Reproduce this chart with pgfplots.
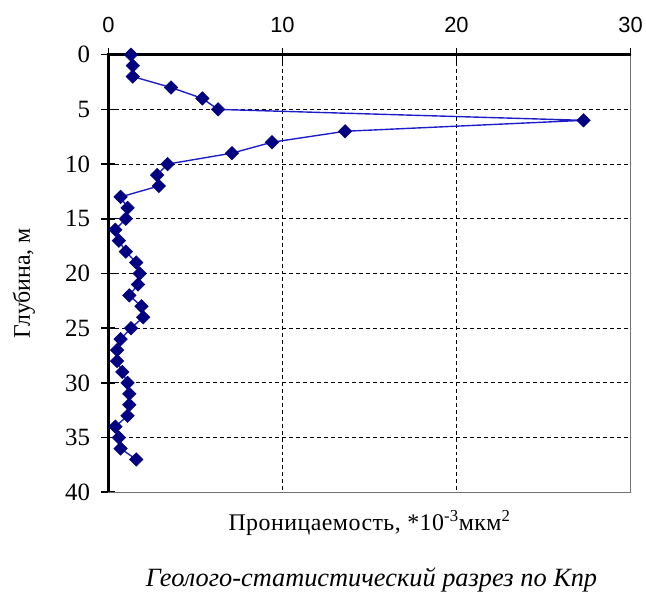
\documentclass[border=0pt]{standalone}
\usepackage{fontspec}
\setmainfont{Liberation Serif}
\newfontfamily\tickfont{Liberation Sans}
\usepackage{pgfplots}
\pgfplotsset{compat=1.18}

\definecolor{markblue}{RGB}{0,0,128}
\definecolor{lineblue}{RGB}{30,30,200}

\begin{document}
\begin{tikzpicture}
\begin{axis}[
  scale only axis,
  width=525pt, height=440pt,
  xmin=0, xmax=30, ymin=0, ymax=40,
  y dir=reverse,
  xtick={0,10,20,30},
  ytick={0,5,...,40},
  xtick pos=right, xticklabel pos=right,
  ytick pos=left,
  tick align=center,
  major tick length=14pt,
  every tick/.style={black, line width=1.6pt},
  axis line style={draw=black!55, line width=1.2pt},
  grid=major,
  major grid style={black, line width=1.2pt, dash pattern=on 4pt off 3pt},
  /pgf/number format/assume math mode=true,
  xticklabel style={font=\fontsize{22}{24}\selectfont\tickfont, yshift=12pt},
  yticklabel style={font=\fontsize{25}{27}\selectfont, xshift=-8pt},
  clip=false,
]
\addplot[color=lineblue, line width=1.4pt,
  mark=square*, mark size=4.8pt,
  mark options={rotate=45, fill=markblue, draw=markblue, line width=0.5pt}]
coordinates {
  (1.3,0) (1.4,1) (1.4,2) (3.6,3) (5.4,4) (6.3,5) (27.3,6) (13.6,7)
  (9.4,8) (7.1,9) (3.4,10) (2.8,11) (2.9,12) (0.7,13) (1.1,14) (1.0,15)
  (0.4,16) (0.6,17) (1.0,18) (1.6,19) (1.8,20) (1.7,21) (1.2,22) (1.9,23)
  (2.0,24) (1.3,25) (0.7,26) (0.5,27) (0.5,28) (0.8,29) (1.1,30) (1.2,31)
  (1.2,32) (1.1,33) (0.4,34) (0.6,35) (0.7,36) (1.6,37)
};
% heavier left and top edges
\draw[black, line width=2.5pt] (axis cs:0,40) -- (axis cs:0,0) -- (axis cs:30,0);
\node[rotate=90, font=\fontsize{24}{26}\selectfont] at ([xshift=-85pt,yshift=-10pt]axis cs:0,20)
  {Глубина, м};
\node[font=\fontsize{24}{26}\selectfont\addfontfeature{LetterSpace=2}] at ([yshift=-31pt]axis cs:15,40)
  {Проницаемость, *10\textsuperscript{-3}мкм\textsuperscript{2}};
\node[font=\fontsize{26.5}{30}\selectfont\itshape] at ([yshift=-88pt,xshift=2pt]axis cs:15,40)
  {Геолого-статистический разрез по Кпр};
\end{axis}
\path ([shift={(-109pt,-112pt)}]current axis.south west) rectangle ([shift={(12pt,55pt)}]current axis.north east);
\end{tikzpicture}
\end{document}
